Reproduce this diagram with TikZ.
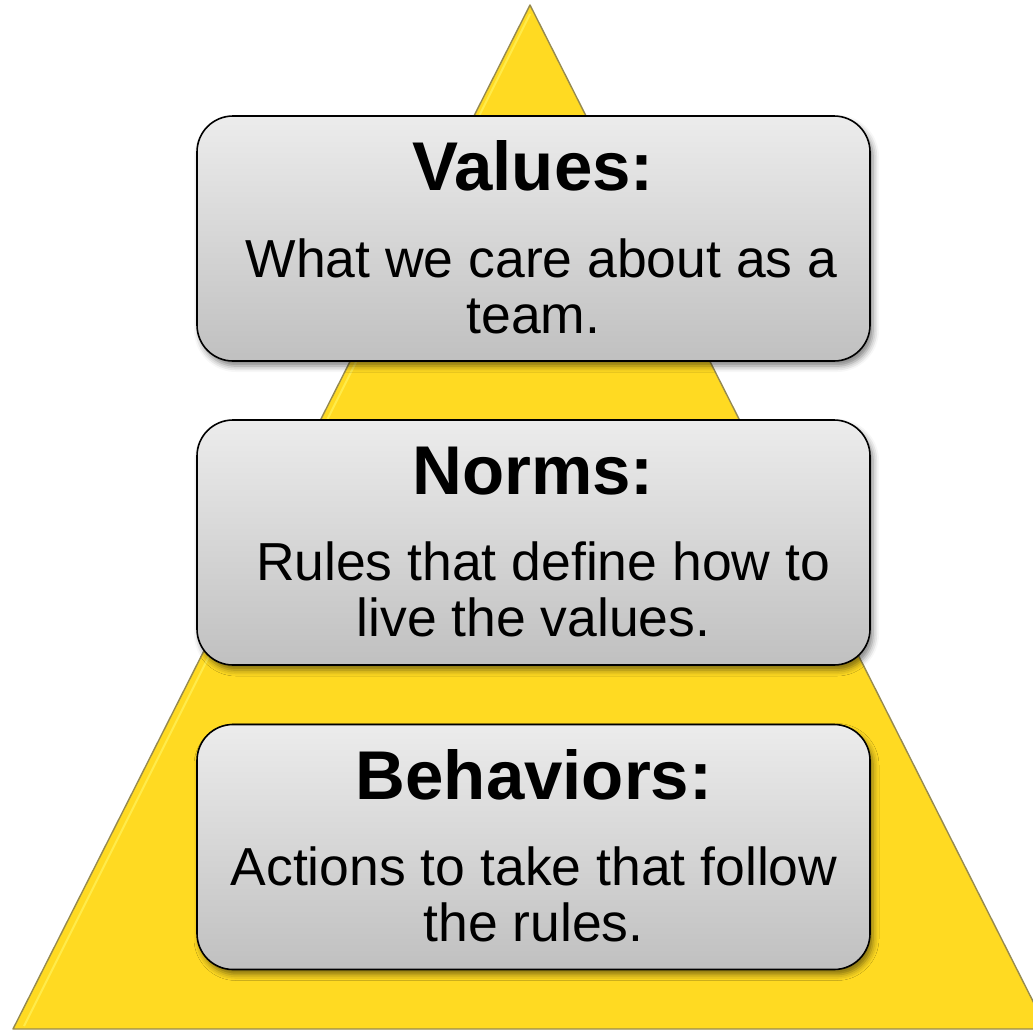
\documentclass[tikz,border=0pt]{standalone}
\usepackage{fontspec}
\setmainfont{Liberation Sans}
\usetikzlibrary{shadows.blur,calc}

\definecolor{pyramidfill}{RGB}{255,218,34}
\definecolor{pyramidedge}{RGB}{150,138,80}
\definecolor{boxtop}{RGB}{236,236,236}
\definecolor{boxbottom}{RGB}{192,192,192}

\tikzset{
  tierbox/.style={
    draw=black, line width=1.6pt, rounded corners=36pt,
    top color=boxtop, bottom color=boxbottom,
    minimum width=673pt, minimum height=245pt, inner sep=0pt,
    blur shadow={shadow xshift=3pt, shadow yshift=-5pt,
                 shadow blur radius=6pt, shadow opacity=50}
  },
  tiertitle/.style={anchor=base, inner sep=0pt,
    font=\fontsize{69}{80}\selectfont\bfseries},
  tierline/.style={anchor=base, inner sep=0pt,
    font=\fontsize{53.5}{60}\selectfont}
}

\begin{document}
\begin{tikzpicture}[x=1pt, y=-1pt]
  \useasboundingbox (0,0) rectangle (1033,1031);
  \begin{scope}
    \clip (0,0) rectangle (1033,1031);
    % pyramid
    \coordinate (apex) at (530,5);
    \coordinate (baseL) at (13,1029);
    \coordinate (baseR) at (1047,1029);
    \fill[pyramidfill] (apex) -- (baseL) -- (baseR) -- cycle;
    \draw[yellow!60!white, line width=2pt, opacity=0.6]
      ($(apex)+(0,9)$) -- ($(baseL)+(11,-3)$);
    \draw[pyramidedge, line width=1.4pt, line join=round]
      (apex) -- (baseL) -- (baseR) -- cycle;
  \end{scope}

  % three tiers
  \node[tierbox] (values)    at (533.5,238.5) {};
  \node[tierbox] (norms)     at (533.5,542.5) {};
  \node[tierbox] (behaviors) at (533.5,847)   {};

  \node[tiertitle] (valuesT) at (533,190) {Values:};
  \node[tierline]  (valuesA) at (541.5,277) {What we care about as a};
  \node[tierline]  (valuesB) at (533.5,333) {team.};

  \node[tiertitle] (normsT) at (533,494) {Norms:};
  \node[tierline]  (normsA) at (543,580) {Rules that define how to};
  \node[tierline]  (normsB) at (533.5,636) {live the values.};

  \node[tiertitle] (behaviorsT) at (534,799) {Behaviors:};
  \node[tierline]  (behaviorsA) at (534,885) {Actions to take that follow};
  \node[tierline]  (behaviorsB) at (533.5,941) {the rules.};
\end{tikzpicture}
\end{document}
